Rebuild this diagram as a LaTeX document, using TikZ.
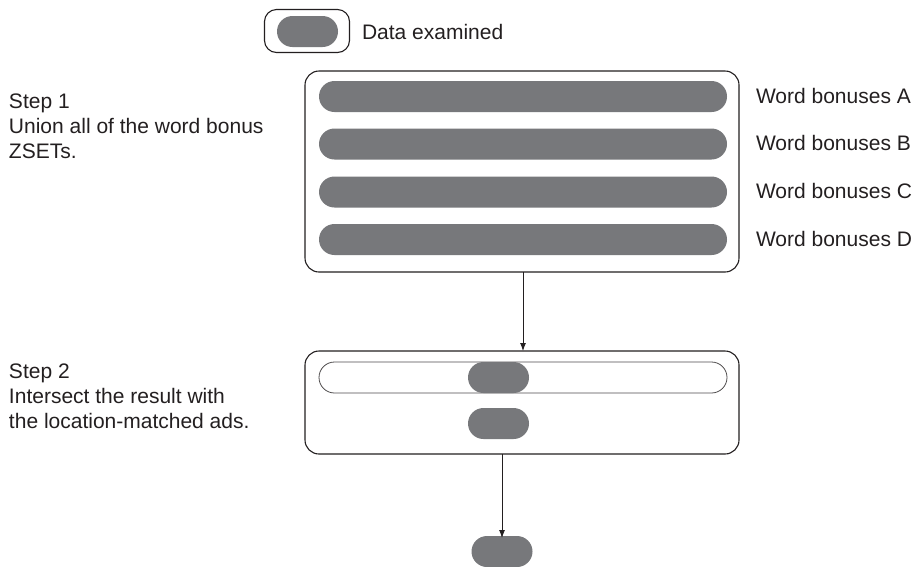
\documentclass[tikz,border=0pt]{standalone}
\usepackage{fontspec}
\setmainfont{Liberation Sans}
\usetikzlibrary{arrows.meta}
\definecolor{pillgray}{HTML}{77787B}
\definecolor{linedark}{HTML}{231F20}
\begin{document}
\begin{tikzpicture}[x=1pt,y=-1pt,
  every node/.style={inner sep=0pt, outer sep=0pt},
  txt/.style={font=\fontsize{21}{25}\selectfont, text=linedark, align=left},
  outerbox/.style={draw=linedark, line width=1.1pt, fill=white, rectangle, rounded corners=14pt},
  graypill/.style={fill=pillgray, rectangle, rounded corners=15.5pt, minimum height=31pt},
  whitepill/.style={draw=linedark!80, line width=0.8pt, fill=white, rectangle, rounded corners=15.5pt, minimum height=31pt},
  conn/.style={draw=linedark, line width=0.9pt, -{Latex[length=8pt,width=6pt]}}
]
\useasboundingbox (0,0) rectangle (917,566);

% legend
\node[outerbox, rounded corners=12pt, minimum width=85pt, minimum height=43pt] (legbox) at (307,31) {};
\node[graypill, minimum width=61pt] (legpill) at (307.5,31.5) {};
\node[txt, anchor=base west] (legtxt) at (362,39.5) {Data examined};

% box 1
\node[outerbox, minimum width=434pt, minimum height=201pt] (box1) at (522,171.5) {};
\node[graypill, minimum width=408pt] (barA) at (523,96.5) {};
\node[graypill, minimum width=408pt] (barB) at (523,144) {};
\node[graypill, minimum width=408pt] (barC) at (523,192) {};
\node[graypill, minimum width=408pt] (barD) at (523,239.5) {};
\node[txt, anchor=base west] (labA) at (756,103) {Word bonuses A};
\node[txt, anchor=base west] (labB) at (756,150.5) {Word bonuses B};
\node[txt, anchor=base west] (labC) at (756,198.5) {Word bonuses C};
\node[txt, anchor=base west] (labD) at (756,246) {Word bonuses D};

% step texts
\node[txt, anchor=base west] (step1) at (9,158) {Step 1\\Union all of the word bonus\\ZSETs.};
\node[txt, anchor=base west] (step2) at (9,428) {Step 2\\Intersect the result with\\the location-matched ads.};

% box 2
\node[outerbox, minimum width=434pt, minimum height=103pt] (box2) at (522,402.5) {};
\node[whitepill, minimum width=408pt] (res) at (523,377.5) {};
\node[graypill, minimum width=61pt] (g1) at (498.5,377.5) {};
\node[graypill, minimum width=61pt] (g2) at (498.5,423.5) {};

% final
\node[graypill, minimum width=61pt] (final) at (502,551.5) {};

% connectors
\draw[conn] ([xshift=1pt]box1.south) -- ([xshift=1pt]box2.north);
\draw[conn] (final.north |- box2.south) -- ([yshift=-2pt]final.north);
\end{tikzpicture}
\end{document}
